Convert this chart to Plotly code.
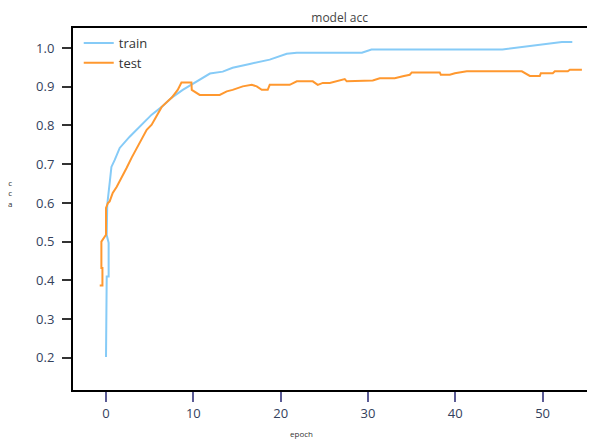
import plotly.graph_objects as go

train_epoch = [0.0, 0.0, 0.08, 0.08, 0.3, 0.3, 0.08, 0.14, 0.42, 0.62, 1.0, 1.57, 2.71, 3.86, 5.23,
               6.38, 7.53, 8.79, 9.93, 11.08, 11.9, 13.37, 14.5, 16.46, 18.75, 20.7, 21.85, 29.3,
               30.4, 45.4, 46.8, 48.3, 50.6, 52.2, 53.4]
train_acc = [0.2025, 0.303, 0.303, 0.41, 0.41, 0.497, 0.517, 0.595, 0.652, 0.693, 0.711, 0.742,
             0.771, 0.797, 0.828, 0.848, 0.872, 0.892, 0.908, 0.923, 0.934, 0.939, 0.949, 0.959,
             0.970, 0.985, 0.988, 0.988, 0.996, 0.996, 1.0, 1.006, 1.011, 1.0155, 1.0155]

test_epoch = [-0.72, -0.41, -0.41, -0.53, -0.53, 0.0, 0.0, 0.23, 0.42, 0.77, 1.23, 1.80, 2.37,
              2.94, 3.52, 4.09, 4.66, 5.23, 6.38, 7.53, 8.21, 8.64, 9.78, 9.82, 10.39, 10.73,
              13.02, 13.83, 14.5, 15.66, 16.69, 17.26, 17.84, 18.52, 18.75, 21.04, 21.85, 23.68,
              24.25, 24.83, 25.63, 26.77, 27.34, 27.57, 30.55, 31.35, 33.07, 33.99, 34.79, 35.02,
              38.22, 38.34, 39.37, 39.95, 40.75, 41.32, 47.62, 48.54, 49.68, 49.8, 51.17, 51.4,
              52.89, 53.12, 54.5]
test_acc = [0.387, 0.387, 0.432, 0.432, 0.50, 0.518, 0.587, 0.600, 0.604, 0.626, 0.642, 0.665,
            0.691, 0.717, 0.742, 0.768, 0.789, 0.802, 0.848, 0.872, 0.892, 0.911, 0.911, 0.892,
            0.884, 0.879, 0.879, 0.888, 0.892, 0.901, 0.905, 0.901, 0.892, 0.892, 0.905, 0.905,
            0.914, 0.914, 0.905, 0.910, 0.910, 0.916, 0.920, 0.914, 0.916, 0.922, 0.922, 0.927,
            0.931, 0.937, 0.937, 0.931, 0.931, 0.935, 0.938, 0.940, 0.940, 0.928, 0.928, 0.935,
            0.935, 0.940, 0.940, 0.944, 0.944]

x_ticks = [0, 10, 20, 30, 40, 50]
y_ticks = [0.2, 0.3, 0.4, 0.5, 0.6, 0.7, 0.8, 0.9, 1.0]
y_tick_text = ["0.2", "0.3", "0.4", "0.5", "0.6", "0.7", "0.8", "0.9", "1.0"]

fig = go.Figure()
fig.add_trace(go.Scatter(x=train_epoch, y=train_acc, mode="lines", name="train",
                         line=dict(color="#86CBF7", width=2)))
fig.add_trace(go.Scatter(x=test_epoch, y=test_acc, mode="lines", name="test",
                         line=dict(color="#FF982F", width=2)))

tick_font = dict(family="Open Sans, sans-serif", size=13, color="#34415c")

fig.update_layout(
    width=587, height=432,
    margin=dict(l=65, r=0, t=20, b=50),
    paper_bgcolor="white", plot_bgcolor="white",
    title=dict(text="model acc", x=0.565, xanchor="center", y=0.978, yanchor="middle",
               font=dict(family="Open Sans, sans-serif", size=12, color="#444444")),
    showlegend=True,
    legend=dict(x=0.011, y=1.0, xanchor="left", yanchor="top", bgcolor="rgba(0,0,0,0)",
                font=dict(family="Open Sans, sans-serif", size=13, color="#333333"),
                itemwidth=30, tracegroupgap=0),
    xaxis=dict(range=[-3.78, 56.0], tickvals=x_ticks, showgrid=False, zeroline=False,
               showline=True, linecolor="black", linewidth=2, mirror=True,
               ticks="outside", ticklen=10, tickwidth=1.5, tickcolor="#5b5b95",
               tickfont=tick_font),
    yaxis=dict(range=[0.117, 1.0517], tickvals=y_ticks, ticktext=y_tick_text, showgrid=False,
               zeroline=False, showline=True, linecolor="black", linewidth=2,
               ticks="outside", ticklen=9, tickwidth=1.5, tickcolor="#333333",
               tickfont=tick_font, ticklabelstandoff=5),
    annotations=[
        dict(text="epoch", xref="paper", yref="paper", x=0.437, y=-0.119,
             xanchor="center", yanchor="middle",
             showarrow=False, font=dict(family="Open Sans, sans-serif", size=8, color="#333333")),
        dict(text="c<br>c<br>a", xref="paper", yref="paper", x=-0.121, y=0.544,
             xanchor="center", yanchor="middle",
             showarrow=False, font=dict(family="Open Sans, sans-serif", size=8, color="#333333")),
    ],
)

fig.write_html("out.html")
